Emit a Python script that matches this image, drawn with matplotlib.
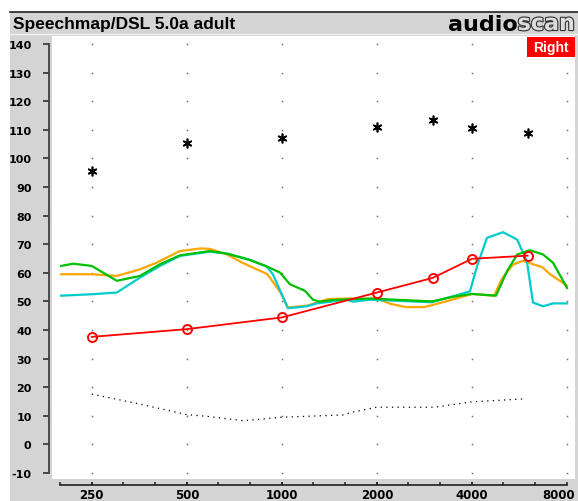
import numpy as np
import matplotlib
matplotlib.use('Agg')
import matplotlib.pyplot as plt
import matplotlib.transforms as mtrans
from matplotlib.patches import Rectangle
from matplotlib.ticker import NullFormatter
import matplotlib.patheffects as pe

# chart values
ucl_freq = [250, 500, 1000, 2000, 3000, 4000, 6000]
ucl_db = [95.5, 105.5, 107.3, 111, 113.5, 110.6, 108.8]

target_freq = [250, 500, 1000, 2000, 3000, 4000, 6000]
target_db = [37.6, 40.3, 44.4, 53.1, 58.2, 64.9, 66]

thresh_freq = [250, 355, 500, 580, 755, 1000, 1560, 1690, 2000, 3050, 4000, 5840]
thresh_db = [17.6, 14.1, 10.4, 9.8, 8.3, 9.5, 10.3, 11.4, 13, 13, 14.9, 15.9]

orange_freq = [200, 250, 300, 355, 400, 475, 550, 590, 670, 750, 900, 990, 1045, 1200,
               1400, 1600, 2000, 2215, 2470, 2820, 3240, 4000, 4700, 4980, 5400, 5800,
               6240, 6670, 7070, 8000]
orange_db = [59.5, 59.5, 58.9, 61.2, 63.5, 67.6, 68.5, 68.4, 66.4, 63.5, 59.5, 53.1, 47.9, 48.5,
             50.8, 51, 50.9, 49.1, 48, 48, 49.7, 52.6, 52, 58, 62.9, 64.2,
             63, 62, 59.5, 55.5]

green_freq = [200, 218, 250, 300, 355, 411, 475, 591, 670, 792, 896, 986, 1060, 1183, 1254,
              1320, 1450, 1900, 2990, 3510, 4000, 4765, 5160, 5560, 6110, 6715, 7225, 8000]
green_db = [62.4, 63.2, 62.4, 57.2, 58.9, 63, 66.1, 67.6, 66.7, 64.5, 62.2, 60.1, 56, 53.7, 50.6,
            49.9, 50.5, 51, 50, 51.7, 52.6, 52, 60.5, 66.4, 67.9, 66.4, 63.5, 54.7]

cyan_freq = [200, 250, 300, 355, 411, 475, 591, 670, 792, 896, 936, 1045, 1200, 1290, 1600,
             1680, 1900, 2990, 3940, 4150, 4460, 5015, 5560, 5970, 6240, 6715, 7225, 8000]
cyan_db = [52, 52.5, 53.1, 58.3, 62.4, 65.9, 67.4, 66.7, 64.5, 62.2, 59.5, 47.6, 48.3, 49.3, 50.6,
           49.9, 50.6, 49.7, 53.5, 62.3, 72.2, 74.2, 71.6, 64, 49.6, 48.3, 49.3, 49.3]

xticks = [250, 500, 1000, 2000, 4000, 8000]
yticks = list(range(-10, 141, 10))

W, H = 578, 502
fig = plt.figure(figsize=(W / 100, H / 100), dpi=100, facecolor='white')
gray = '#d4d4d4'

# gray panel + header
fig.patches.append(Rectangle((10 / W, 0), 1 - 10 / W, 1 - 13 / H, transform=fig.transFigure,
                             facecolor=gray, edgecolor='none', zorder=-5))
fig.add_artist(plt.Line2D([10 / W, 1], [1 - 13 / H, 1 - 13 / H], transform=fig.transFigure,
                          color='#202020', lw=1.2))
fig.add_artist(plt.Line2D([10 / W, 1], [1 - 35 / H, 1 - 35 / H], transform=fig.transFigure,
                          color='#eeeeee', lw=1))
fig.text(13 / W, 1 - 24 / H, 'Speechmap/DSL 5.0a adult', fontsize=12.5, fontweight='bold',
         family='Liberation Sans', va='center', ha='left', color='black')

ax = fig.add_axes([52 / W, 1 - 480 / H, (575 - 52) / W, (480 - 37) / H], zorder=1)
ax.set_facecolor('white')
ax.set_xscale('log', base=2)
ax.set_xlim(187, 8478)
ax.set_ylim(-12.1, 142.8)

# grid dots
gx, gy = np.meshgrid(xticks, yticks)
ax.plot(gx.ravel(), gy.ravel(), ls='none', marker='s', ms=1.1, mec='none', mfc='#707070', zorder=1)

ax.plot(thresh_freq, thresh_db, color='black', lw=0.9, ls=(0, (1, 3.5)), zorder=2)
ax.plot(orange_freq, orange_db, color='#ffa500', lw=1.6, zorder=3)
ax.plot(cyan_freq, cyan_db, color='#00cccc', lw=1.6, zorder=4)
ax.plot(green_freq, green_db, color='#00c000', lw=1.6, zorder=5)
ax.plot(target_freq, target_db, color='#ff0000', lw=1.3, marker='o', ms=6.5, mfc='none',
        mec='#ff0000', mew=1.4, zorder=6)
ax.plot(ucl_freq, ucl_db, ls='none', marker=(6, 2, 0), ms=7, mec='black', mew=1.2, zorder=6)

for s in ['top', 'right']:
    ax.spines[s].set_visible(False)
ax.spines['left'].set_position(('outward', 2.2))
ax.spines['left'].set_bounds(-10, 140)
ax.spines['left'].set_color('#404040')
ax.spines['left'].set_linewidth(1.3)
ax.spines['bottom'].set_position(('outward', 4))
ax.spines['bottom'].set_bounds(198, 8000)
ax.spines['bottom'].set_color('#202020')
ax.spines['bottom'].set_linewidth(1.2)

ax.set_yticks(yticks)
ax.set_yticklabels([str(v) for v in yticks])
ax.set_xticks(xticks)
ax.set_xticklabels([str(v) for v in xticks])
ax.set_xticks([198 * 2 ** (i / 3) for i in range(16)], minor=True)
ax.xaxis.set_minor_formatter(NullFormatter())
ax.tick_params(axis='y', direction='out', length=4.5, width=1.2, color='#303030', pad=8,
               labelsize=8)
ax.tick_params(axis='x', which='both', direction='in', length=2.5, width=1.1, color='#202020',
               pad=2.5, labelsize=8.5)
for lab in ax.get_yticklabels() + ax.get_xticklabels():
    lab.set_fontweight('bold')
    lab.set_family('DejaVu Sans')

# last frequency label is pulled in so it stays inside the panel
last = ax.get_xticklabels()[-1]
last.set_ha('right')
last.set_transform(last.get_transform() + mtrans.ScaledTranslation(8 / 100, 0, fig.dpi_scale_trans))

# Right badge
fig.patches.append(Rectangle((527 / W, 1 - 58 / H), 48 / W, 20 / H, transform=fig.transFigure,
                             facecolor='#ff0000', edgecolor='none', zorder=5))
fig.text(551 / W, 1 - 48 / H, 'Right', color='white', fontsize=10, fontweight='bold',
         family='Liberation Sans', ha='center', va='center', zorder=6)

# audioscan logo
r = fig.canvas.get_renderer()
t2 = fig.text(575 / W, 1 - 25 / H, 'scan', fontsize=16, fontweight='bold', family='DejaVu Sans',
              color='#dcdcdc', ha='right', va='center',
              path_effects=[pe.withStroke(linewidth=1.6, foreground='#303030')])
bb = t2.get_window_extent(renderer=r)
fig.text(bb.x0 / W, 1 - 25 / H, 'audio', fontsize=16, fontweight='bold', family='DejaVu Sans',
         color='black', ha='right', va='center')

fig.savefig('out.png', dpi=100, facecolor=fig.get_facecolor())
